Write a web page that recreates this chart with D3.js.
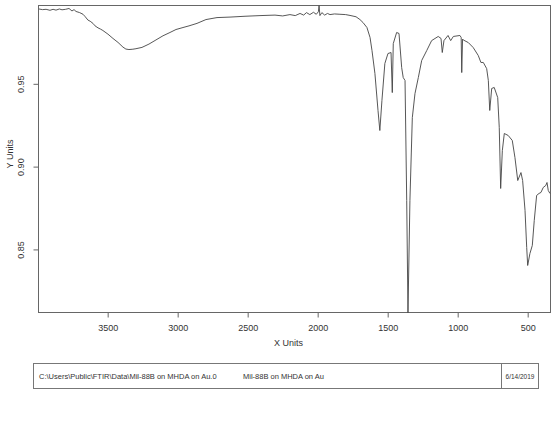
<!DOCTYPE html>
<html>
<head>
<meta charset="utf-8">
<script src="https://cdn.jsdelivr.net/npm/d3@7"></script>
<style>
  body { margin: 0; background: #fff; }
  svg { font-family: "Liberation Sans", Arial, sans-serif; }
  .axis text { fill: #333; font-size: 9px; }
  .axis line, .axis path { stroke: #666; }
</style>
</head>
<body>
<svg id="ftir"></svg>
<script>
// FTIR spectrum (cm-1, Y units)
const wavenumbers = [
  3991, 3965, 3940, 3912, 3890, 3869, 3845, 3826, 3800, 3776,
  3755, 3740, 3726, 3700, 3676, 3660, 3641, 3625, 3605, 3590,
  3569, 3550, 3534, 3498, 3462, 3426, 3391, 3370, 3348, 3320,
  3298, 3255, 3205, 3155, 3105, 3055, 3012, 2962, 2919, 2862,
  2798, 2719, 2626, 2519, 2412, 2305, 2250, 2198, 2160, 2126,
  2100, 2080, 2056, 2030, 2010, 1995, 1990, 1984, 1970, 1950,
  1930, 1912, 1880, 1841, 1800, 1769, 1726, 1698, 1676, 1648,
  1626, 1612, 1591, 1569, 1556, 1541, 1520, 1498, 1476, 1467,
  1460, 1436, 1419, 1400, 1389, 1376, 1364, 1355, 1341, 1324,
  1305, 1281, 1257, 1221, 1186, 1139, 1119, 1110, 1098, 1069,
  1050, 1031, 984, 975, 971, 965, 960, 924, 889, 853,
  834, 817, 793, 781, 771, 757, 739, 714, 703, 693,
  681, 667, 639, 610, 591, 571, 548, 536, 519, 507,
  500, 484, 467, 453, 436, 419, 405, 389, 371, 362,
  353, 341
];
const yUnits = [
  0.9952, 0.9948, 0.9950, 0.9944, 0.9950, 0.9945, 0.9952, 0.9947, 0.9950, 0.9955,
  0.9940, 0.9948, 0.9937, 0.9930, 0.9920, 0.9905, 0.9885, 0.9878, 0.9865, 0.9850,
  0.9838, 0.9830, 0.9822, 0.9800, 0.9774, 0.9750, 0.9722, 0.9710, 0.9707, 0.9709,
  0.9712, 0.9720, 0.9740, 0.9765, 0.9790, 0.9810, 0.9828, 0.9840, 0.9850, 0.9865,
  0.9888, 0.9900, 0.9903, 0.9908, 0.9912, 0.9915, 0.9910, 0.9918, 0.9912, 0.9925,
  0.9915, 0.9930, 0.9918, 0.9932, 0.9920, 0.9935, 0.9972, 0.9912, 0.9930, 0.9915,
  0.9925, 0.9918, 0.9922, 0.9920, 0.9918, 0.9913, 0.9905, 0.9888, 0.9870, 0.9840,
  0.9780, 0.9701, 0.9562, 0.9339, 0.9218, 0.9399, 0.9623, 0.9683, 0.9689, 0.9447,
  0.9743, 0.9810, 0.9804, 0.9598, 0.9538, 0.9520, 0.8796, 0.8118, 0.8796, 0.9296,
  0.9441, 0.9538, 0.9641, 0.9701, 0.9761, 0.9786, 0.9774, 0.9689, 0.9761, 0.9792,
  0.9761, 0.9786, 0.9792, 0.9780, 0.9568, 0.9770, 0.9765, 0.9749, 0.9719, 0.9671,
  0.9629, 0.9629, 0.9592, 0.9520, 0.9339, 0.9472, 0.9478, 0.9417, 0.9236, 0.8868,
  0.9097, 0.9200, 0.9188, 0.9158, 0.9055, 0.8916, 0.8964, 0.8916, 0.8736, 0.8512,
  0.8403, 0.8475, 0.8524, 0.8675, 0.8826, 0.8838, 0.8844, 0.8874, 0.8886, 0.8904,
  0.8856, 0.8838
];
const xTicks = [3500, 3000, 2500, 2000, 1500, 1000, 500];
const yTicks = [0.85, 0.90, 0.95];
const footer = ['C:\\Users\\Public\\FTIR\\Data\\Mil-88B on MHDA on Au.0', 'Mil-88B on MHDA on Au', '6/14/2019'];

const width = 560;
const height = 426;
const plot = { left: 38.5, right: 550.5, top: 5.5, bottom: 312.5 };

const svg = d3.select('#ftir')
  .attr('width', width)
  .attr('height', height);

const x = d3.scaleLinear()
  .domain([3994, 337])
  .range([plot.left, plot.right]);
const y = d3.scaleLinear()
  .domain([0.8119, 0.9973])
  .range([plot.bottom, plot.top]);

const data = wavenumbers.map((w, i) => ({ w, v: yUnits[i] }));

// X axis
const xAxis = d3.axisBottom(x)
  .tickValues(xTicks)
  .tickSize(5)
  .tickPadding(7)
  .tickFormat(d3.format('d'))
  .tickSizeOuter(0);
svg.append('g')
  .attr('class', 'axis x')
  .attr('transform', `translate(0, ${plot.bottom})`)
  .call(xAxis)
  .select('.domain').remove();

// Y axis, labels turned on their side
const yAxis = d3.axisLeft(y)
  .tickValues(yTicks)
  .tickSize(5)
  .tickFormat(d3.format('.2f'))
  .tickSizeOuter(0);
const yg = svg.append('g')
  .attr('class', 'axis y')
  .attr('transform', `translate(${plot.left}, 0)`)
  .call(yAxis);
yg.select('.domain').remove();
yg.selectAll('.tick text')
  .attr('x', null).attr('dy', null)
  .attr('text-anchor', 'middle')
  .attr('transform', 'translate(-14.5, 0) rotate(-90)');

// Frame
svg.append('rect')
  .attr('x', plot.left)
  .attr('y', plot.top)
  .attr('width', plot.right - plot.left)
  .attr('height', plot.bottom - plot.top)
  .attr('fill', 'none')
  .attr('stroke', '#666')
  .attr('stroke-width', 1);

// Spectrum
const line = d3.line()
  .x(d => x(d.w))
  .y(d => y(d.v));
svg.append('path')
  .datum(data)
  .attr('fill', 'none')
  .attr('stroke', '#444')
  .attr('stroke-width', 0.9)
  .attr('stroke-linejoin', 'round')
  .attr('d', line);

// Axis titles
svg.append('text')
  .attr('x', (plot.left + plot.right) / 2 - 6)
  .attr('y', 346)
  .attr('text-anchor', 'middle')
  .attr('font-size', 9)
  .attr('fill', '#333')
  .text('X Units');
svg.append('text')
  .attr('transform', `translate(13, ${(plot.top + plot.bottom) / 2 - 5}) rotate(-90)`)
  .attr('text-anchor', 'middle')
  .attr('font-size', 9)
  .attr('fill', '#333')
  .text('Y Units');

// Footer box
const box = { x: 33.5, y: 363.5, w: 505, h: 25, split: 501.5 };
const fg = svg.append('g');
fg.append('rect')
  .attr('x', box.x).attr('y', box.y)
  .attr('width', box.w).attr('height', box.h)
  .attr('fill', 'none')
  .attr('stroke', '#777');
fg.append('line')
  .attr('x1', box.split).attr('x2', box.split)
  .attr('y1', box.y).attr('y2', box.y + box.h)
  .attr('stroke', '#777');
const footX = [39, 243, 520];
const footAnchor = ['start', 'start', 'middle'];
const footSize = [7.5, 7.5, 6.5];
fg.selectAll('text')
  .data(footer)
  .enter().append('text')
    .attr('x', (d, i) => footX[i])
    .attr('y', 378.5)
    .attr('text-anchor', (d, i) => footAnchor[i])
    .attr('font-size', (d, i) => footSize[i])
    .attr('fill', '#333')
    .text(d => d);
</script>
</body>
</html>
